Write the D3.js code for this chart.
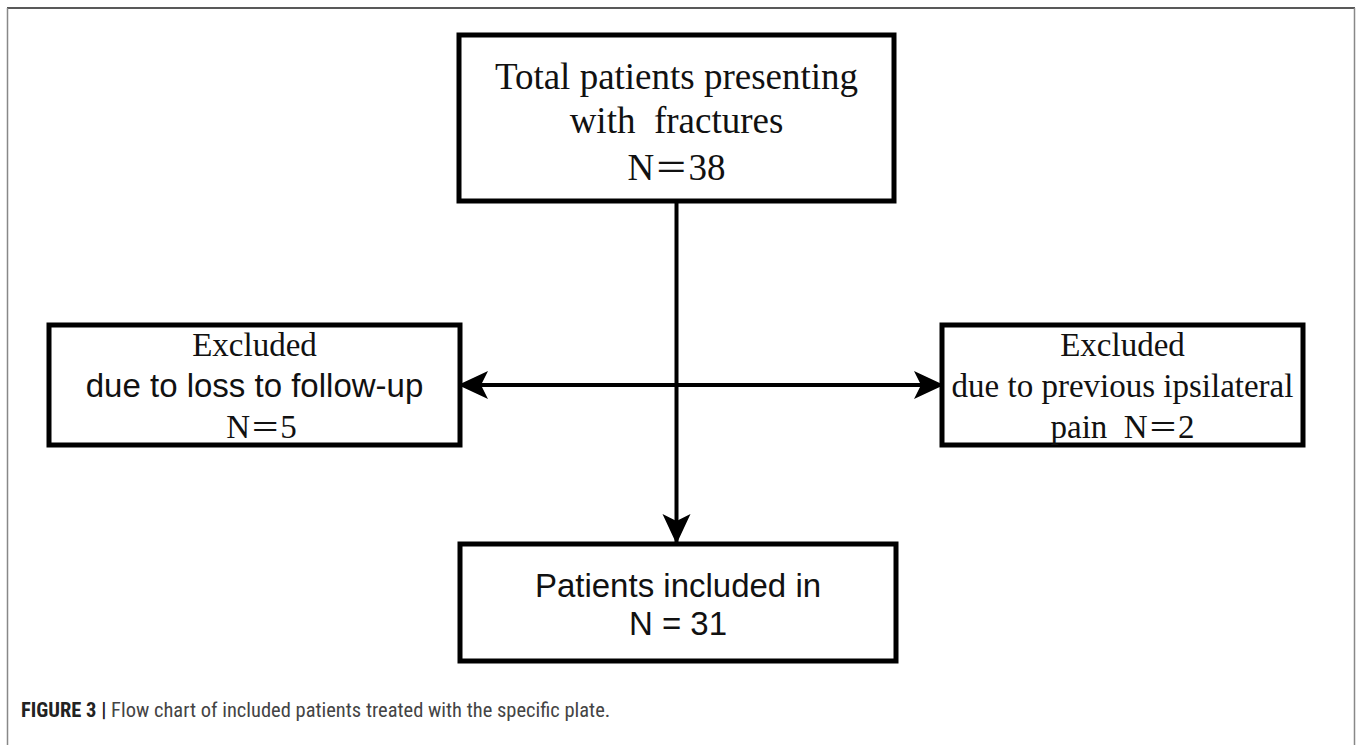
<!DOCTYPE html>
<html>
<head>
<meta charset="utf-8">
<script src="https://cdn.jsdelivr.net/npm/d3@7"></script>
<style>
  body { margin: 0; background: #fff; }
  text { white-space: pre; }
  .serif { font-family: "Liberation Serif", "Times New Roman", serif; }
  .sans { font-family: "Liberation Sans", Arial, sans-serif; }
  .wide-eq { font-family: "Noto Sans CJK SC", sans-serif; }
</style>
</head>
<body>
<svg id="chart"></svg>
<script>
// flow chart content
const nodeIds = ['total', 'lost', 'ipsi', 'included']
const nodeLines = [
    ['Total patients presenting', 'with  fractures'],
    ['Excluded', 'due to loss to follow-up'],
    ['Excluded', 'due to previous ipsilateral'],
    ['Patients included in']
]
const nodeCountPrefix = ['', '', 'pain  ', '']
const nodeCounts = [38, 5, 2, 31]
const edges = [['total', 'included'], ['hub', 'lost'], ['hub', 'ipsi']]
const caption = ['FIGURE 3 |', ' Flow chart of included patients treated with the specific plate.']

const width = 1360, height = 745

// layout in the original picture's pixel grid
const xScale = d3.scaleLinear().domain([0, 1360]).range([0, width])
const yScale = d3.scaleLinear().domain([0, 745]).range([0, height])

const layout = {
    total:    {x0: 459, x1: 894, y0: 35, y1: 201, size: 37, font: 'serif', lineGap: 44, first: 89,
               countFont: 'serif', countGap: 47},
    lost:     {x0: 49, x1: 460, y0: 325, y1: 445, size: 33, font: ['serif', 'sans'], lineGap: 41, first: 356,
               countFont: 'serif', countGap: 41, countDx: 7},
    ipsi:     {x0: 942, x1: 1303, y0: 325, y1: 445, size: 33, font: 'serif', lineGap: 41, first: 356,
               countFont: 'serif', countGap: 41},
    included: {x0: 460, x1: 896, y0: 544, y1: 661, size: 33, font: 'sans', lineGap: 38, first: 597,
               countFont: 'sans', countGap: 38}
}
const hubY = 385

const svg = d3.select('#chart')
    .attr('width', width)
    .attr('height', height)

// figure frame
svg.append('line')
    .attr('x1', xScale(7)).attr('x2', xScale(1355))
    .attr('y1', yScale(8)).attr('y2', yScale(8))
    .attr('stroke', '#222').attr('stroke-width', 1.5)
svg.append('line')
    .attr('x1', xScale(7.5)).attr('x2', xScale(7.5))
    .attr('y1', yScale(8)).attr('y2', yScale(745))
    .attr('stroke', '#888').attr('stroke-width', 1.5)
svg.append('line')
    .attr('x1', xScale(1354.5)).attr('x2', xScale(1354.5))
    .attr('y1', yScale(8)).attr('y2', yScale(745))
    .attr('stroke', '#888').attr('stroke-width', 1.5)

// arrow head
svg.append('defs').append('marker')
    .attr('id', 'head')
    .attr('viewBox', '0 0 30 30')
    .attr('refX', 29).attr('refY', 15)
    .attr('markerWidth', 30).attr('markerHeight', 30)
    .attr('markerUnits', 'userSpaceOnUse')
    .attr('orient', 'auto')
    .append('path')
    .attr('d', 'M0,1 L30,15 L0,29 L7,15 Z')
    .attr('fill', '#000')

const cx = id => xScale((layout[id].x0 + layout[id].x1) / 2)
const hubX = cx('total')

const linkG = svg.append('g')
edges.forEach(([from, to]) => {
    let x1, y1, x2, y2
    if (from === 'hub') {
        x1 = hubX
        y1 = yScale(hubY)
        const b = layout[to]
        x2 = b.x0 < layout.total.x0 ? xScale(b.x1 - 1) : xScale(b.x0 + 1)
        y2 = yScale(hubY)
    } else {
        x1 = hubX
        y1 = yScale(layout[from].y1)
        x2 = hubX
        y2 = yScale(layout[to].y0 - 1)
    }
    linkG.append('line')
        .attr('x1', x1).attr('y1', y1)
        .attr('x2', x2).attr('y2', y2)
        .attr('stroke', '#000')
        .attr('stroke-width', 4)
        .attr('marker-end', 'url(#head)')
})

// boxes and labels
nodeIds.forEach((id, i) => {
    const b = layout[id]
    const g = svg.append('g')
    g.append('rect')
        .attr('x', xScale(b.x0)).attr('y', yScale(b.y0))
        .attr('width', xScale(b.x1) - xScale(b.x0))
        .attr('height', yScale(b.y1) - yScale(b.y0))
        .attr('fill', '#fff')
        .attr('stroke', '#000')
        .attr('stroke-width', 5)

    nodeLines[i].forEach((line, j) => {
        const font = Array.isArray(b.font) ? b.font[j] : b.font
        g.append('text')
            .attr('class', font)
            .attr('x', cx(id))
            .attr('y', yScale(b.first + j * b.lineGap))
            .attr('text-anchor', 'middle')
            .attr('font-size', b.size)
            .attr('fill', '#111')
            .text(line)
    })

    const countText = g.append('text')
        .attr('class', b.countFont)
        .attr('x', cx(id) + (b.countDx || 0))
        .attr('y', yScale(b.first + (nodeLines[i].length - 1) * b.lineGap + b.countGap))
        .attr('text-anchor', 'middle')
        .attr('font-size', b.size)
        .attr('fill', '#111')
    if (b.countFont === 'serif') {
        countText.append('tspan').text(nodeCountPrefix[i] + 'N')
        countText.append('tspan').attr('class', 'wide-eq').attr('font-size', b.size * 0.92).text('＝')
        countText.append('tspan').text(nodeCounts[i])
    } else {
        countText.text('N = ' + nodeCounts[i])
    }
})

// caption
const cap = svg.append('text')
    .attr('x', xScale(21))
    .attr('y', yScale(717))
    .attr('font-family', '"Liberation Sans Narrow", "Roboto Condensed", "Liberation Sans", sans-serif')
    .attr('font-size', 20.5)
cap.append('tspan').attr('font-weight', 'bold').attr('fill', '#222').text(caption[0])
cap.append('tspan').attr('fill', '#444').text(caption[1])
</script>
</body>
</html>
